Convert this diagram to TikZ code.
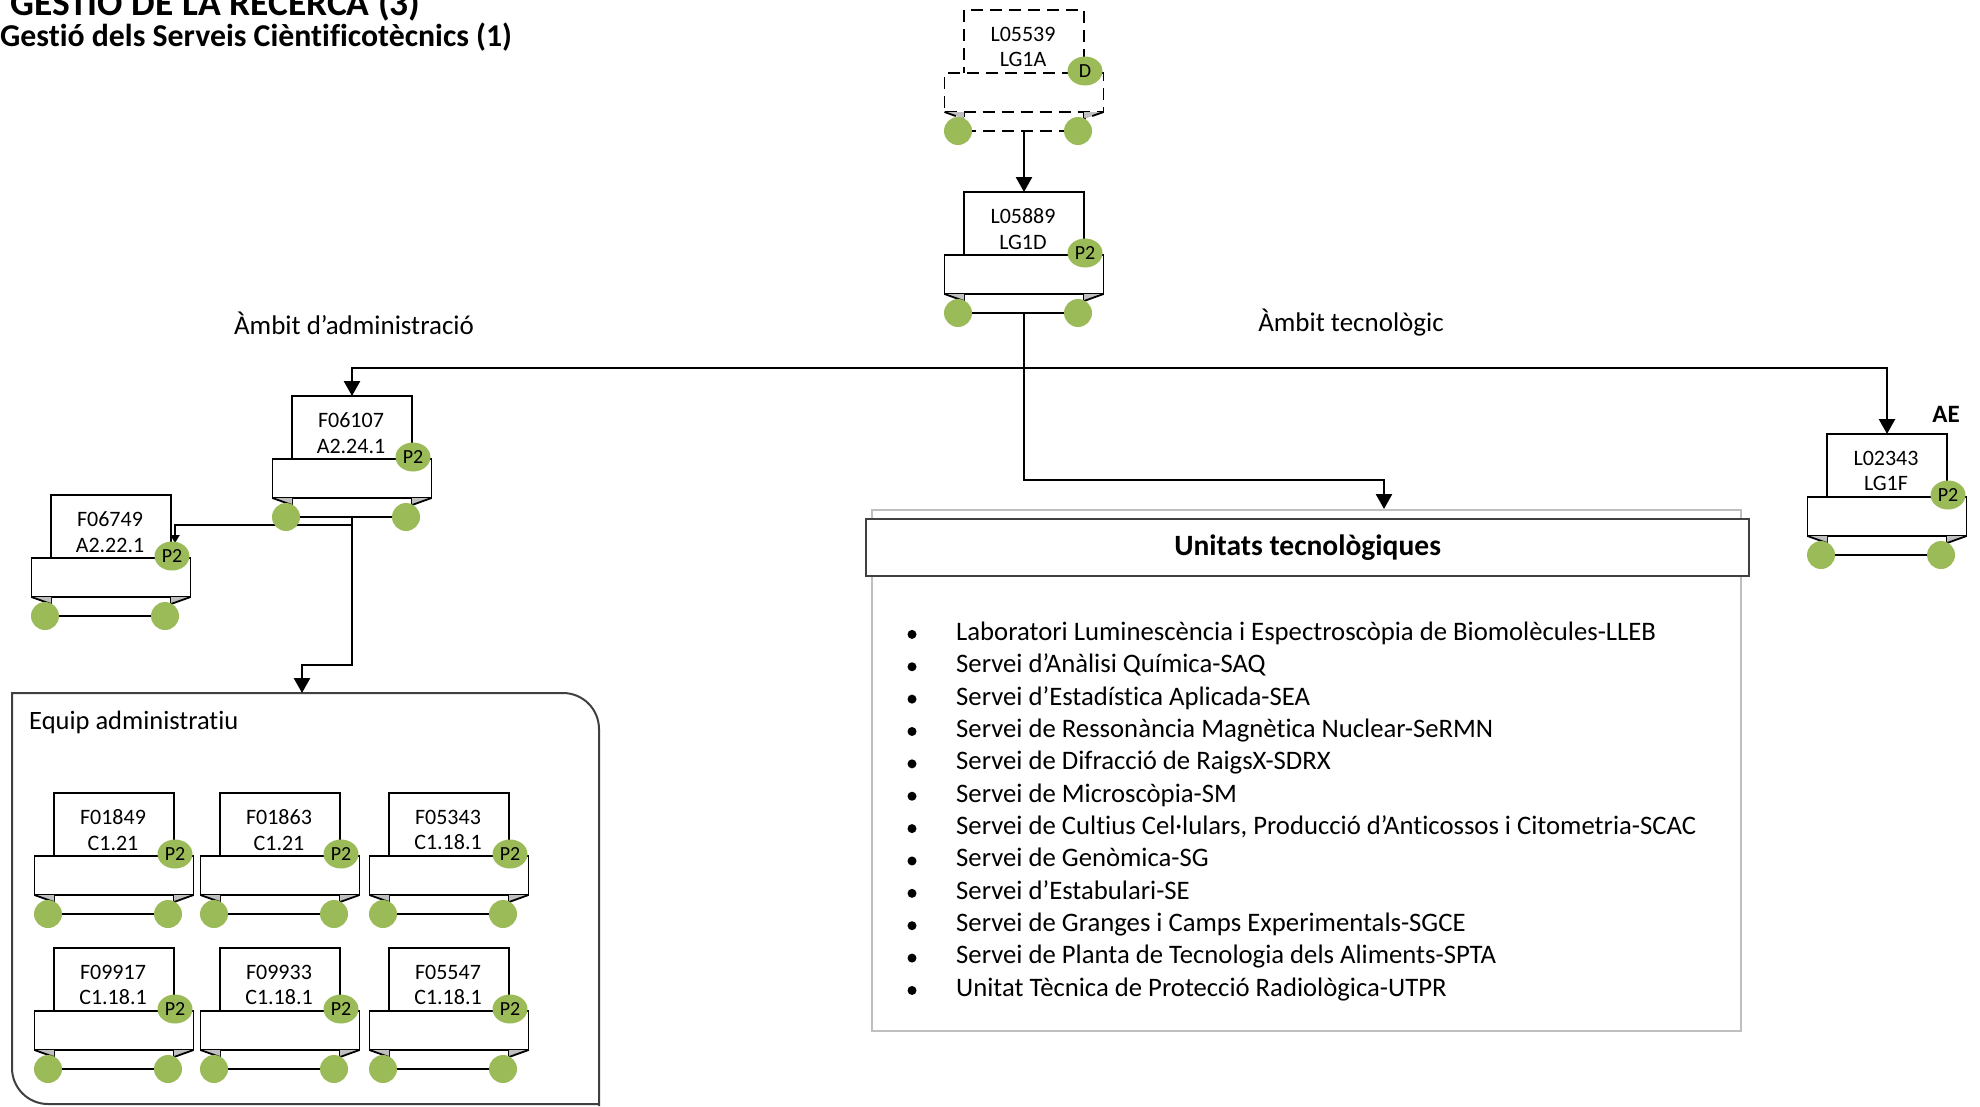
\documentclass[tikz,border=0pt]{standalone}
\usepackage{fontspec}
\setmainfont{Carlito}[Ligatures={NoCommon}]
\usetikzlibrary{arrows.meta,shapes.geometric,calc}
\definecolor{dotgreen}{RGB}{155,187,89}
\definecolor{foldgray}{RGB}{191,191,191}
\definecolor{boxgray}{RGB}{191,191,191}
\definecolor{darkline}{RGB}{64,64,64}
\tikzset{
  mainbox/.style={draw,fill=white,line width=1.8pt,minimum width=120pt,minimum height=121pt,inner sep=0pt,outer sep=0pt},
  ribbon/.style={draw,fill=white,line width=1.8pt,minimum width=159pt,minimum height=39pt,inner sep=0pt,outer sep=0pt},
  gdot/.style={circle,fill=dotgreen,minimum size=28pt,inner sep=0pt},
  badge/.style={ellipse,fill=dotgreen,minimum width=35pt,minimum height=29pt,inner sep=0pt,font=\fontsize{20}{20}\selectfont},
  lbl/.style={align=center,font=\fontsize{22}{25.5}\selectfont,inner sep=0pt},
  conn/.style={line width=2.6pt,-{Triangle[length=15pt,width=16pt]}},
  plainline/.style={line width=2.6pt},
  bul/.style={circle,fill=black,minimum size=9pt,inner sep=0pt},
  item/.style={font=\fontsize{26.7}{26.7}\selectfont,inner sep=0pt},
  sect/.style={font=\fontsize{27}{27}\selectfont,inner sep=0pt},
}
% #1 name, #2 left, #3 top, #4 line1, #5 line2, #6 badge, #7 extra style
\newcommand\posnode[7]{%
  \node[mainbox,#7,anchor=north west] (#1) at (#2,#3) {};
  \node[lbl] (#1t) at ([xshift=-1pt,yshift=-37pt]#1.north) {#4\\#5};
  \node[ribbon,#7,anchor=north] (#1r) at ([yshift=-63pt]#1.north) {};
  \fill[foldgray] (#1r.south west) -- (#1r.south west -| #1.west) -- ([yshift=-7pt]#1r.south west -| #1.west) -- cycle;
  \fill[foldgray] (#1r.south east) -- (#1r.south east -| #1.east) -- ([yshift=-7pt]#1r.south east -| #1.east) -- cycle;
  \draw[line width=1.8pt,#7] (#1r.south west) -- ([yshift=-7pt]#1r.south west -| #1.west);
  \draw[line width=1.8pt,#7] (#1r.south east) -- ([yshift=-7pt]#1r.south east -| #1.east);
  \node[gdot] (#1a) at ([xshift=-6pt]#1.south west) {};
  \node[gdot] (#1b) at ([xshift=-6pt]#1.south east) {};
  \node[badge] (#1c) at ([xshift=1pt,yshift=2pt]#1r.north east -| #1.east) {#6};
}
\begin{document}
\begin{tikzpicture}[x=1pt,y=-1pt]
\useasboundingbox (0,0) rectangle (1980,1106);
\clip (0,0) rectangle (1980,1106);

% titles
\node[anchor=base west,font=\bfseries\fontsize{37.5}{37.5}\selectfont,inner sep=0pt] (title1) at (10,15) {GESTIÓ DE LA RECERCA (3)};
\node[anchor=west,font=\bfseries\fontsize{31.8}{31.8}\selectfont,inner sep=0pt] (title2) at (0,37) {Gestió dels Serveis Cièntificotècnics (1)};

% section labels
\node[sect] (lbladm) at (354,323) {Àmbit d’administració};
\node[sect] (lbltec) at (1351,323) {Àmbit tecnològic};
\node[font=\bfseries\fontsize{25}{25}\selectfont,inner sep=0pt] (lblae) at (1946,414) {AE};

% Equip administratiu container
\draw[darkline,line width=2pt] (12,1068) -- (12,693) -- (563,693) arc[start angle=-90,end angle=0,radius=36] -- (599,1106);
\draw[darkline,line width=2pt] (12,1068) arc[start angle=180,end angle=90,radius=36] -- (599,1104);
\node[anchor=west,font=\fontsize{26.5}{26.5}\selectfont,inner sep=0pt] (eqlbl) at (29,722) {Equip administratiu};
\coordinate (eqtop) at (302,693);

% Unitats tecnologiques
\node[draw=boxgray,line width=1.5pt,minimum width=869pt,minimum height=521pt,inner sep=0pt,anchor=north west] (ut) at (871,509) {};
\node[draw=darkline,fill=white,line width=2.2pt,minimum width=883pt,minimum height=57pt,inner sep=0pt,anchor=north west,font=\bfseries\fontsize{29.5}{29.5}\selectfont] (uth) at (865,518) {Unitats tecnològiques};
\coordinate (utin) at (1384,509);
\foreach \t [count=\i] in {Laboratori Luminescència i Espectroscòpia de Biomolècules-LLEB,
  Servei d’Anàlisi Química-SAQ,
  Servei d’Estadística Aplicada-SEA,
  Servei de Ressonància Magnètica Nuclear-SeRMN,
  Servei de Difracció de RaigsX-SDRX,
  Servei de Microscòpia-SM,
  {Servei de Cultius Cel·lulars, Producció d’Anticossos i Citometria-SCAC},
  Servei de Genòmica-SG,
  Servei d’Estabulari-SE,
  Servei de Granges i Camps Experimentals-SGCE,
  Servei de Planta de Tecnologia dels Aliments-SPTA,
  Unitat Tècnica de Protecció Radiològica-UTPR}{
  \node[bul] (b\i) at (912,602+32.37*\i) {};
  \node[item,anchor=mid west] (it\i) at (956,605.5+32.37*\i) {\t};
}

% junctions
\coordinate (j1) at (1024,368);
\coordinate (j3) at (1024,480);
\coordinate (j2) at (352,525);
\coordinate (j4) at (352,665);
\coordinate (f2k) at (175,525);
\coordinate (f2tip) at (175,543);

% connectors (drawn first, nodes on top)
\draw[conn] (1024,131) -- (1024,192);
\draw[plainline] (1024,313) -- (j1);
\draw[conn] (j1) -| (1887,434);
\draw[conn] (j1) -| (352,396);
\draw[conn] (j1) -- (j3) -| (utin);
\draw[conn] (352,517) -- (j4) -| (eqtop);
\draw[line width=2.6pt,-{Triangle[length=8pt,width=9pt]}] (j2) -- (f2k) -- (f2tip);

% position nodes
\posnode{n1}{964}{10}{L05539}{LG1A}{D}{dashed,dash pattern=on 12pt off 7pt}
\posnode{n2}{964}{192}{L05889}{LG1D}{P2}{}
\posnode{f1}{292}{396}{F06107}{A2.24.1}{P2}{}
\posnode{f2}{51}{495}{F06749}{A2.22.1}{P2}{}
\posnode{ae}{1827}{434}{L02343}{LG1F}{P2}{}
\posnode{e1}{54}{793}{F01849}{C1.21}{P2}{}
\posnode{e2}{220}{793}{F01863}{C1.21}{P2}{}
\posnode{e3}{389}{793}{F05343}{C1.18.1}{P2}{}
\posnode{e4}{54}{948}{F09917}{C1.18.1}{P2}{}
\posnode{e5}{220}{948}{F09933}{C1.18.1}{P2}{}
\posnode{e6}{389}{948}{F05547}{C1.18.1}{P2}{}

\draw[plainline] (n1.south) -- ++(0pt,-4pt);
\end{tikzpicture}
\end{document}
